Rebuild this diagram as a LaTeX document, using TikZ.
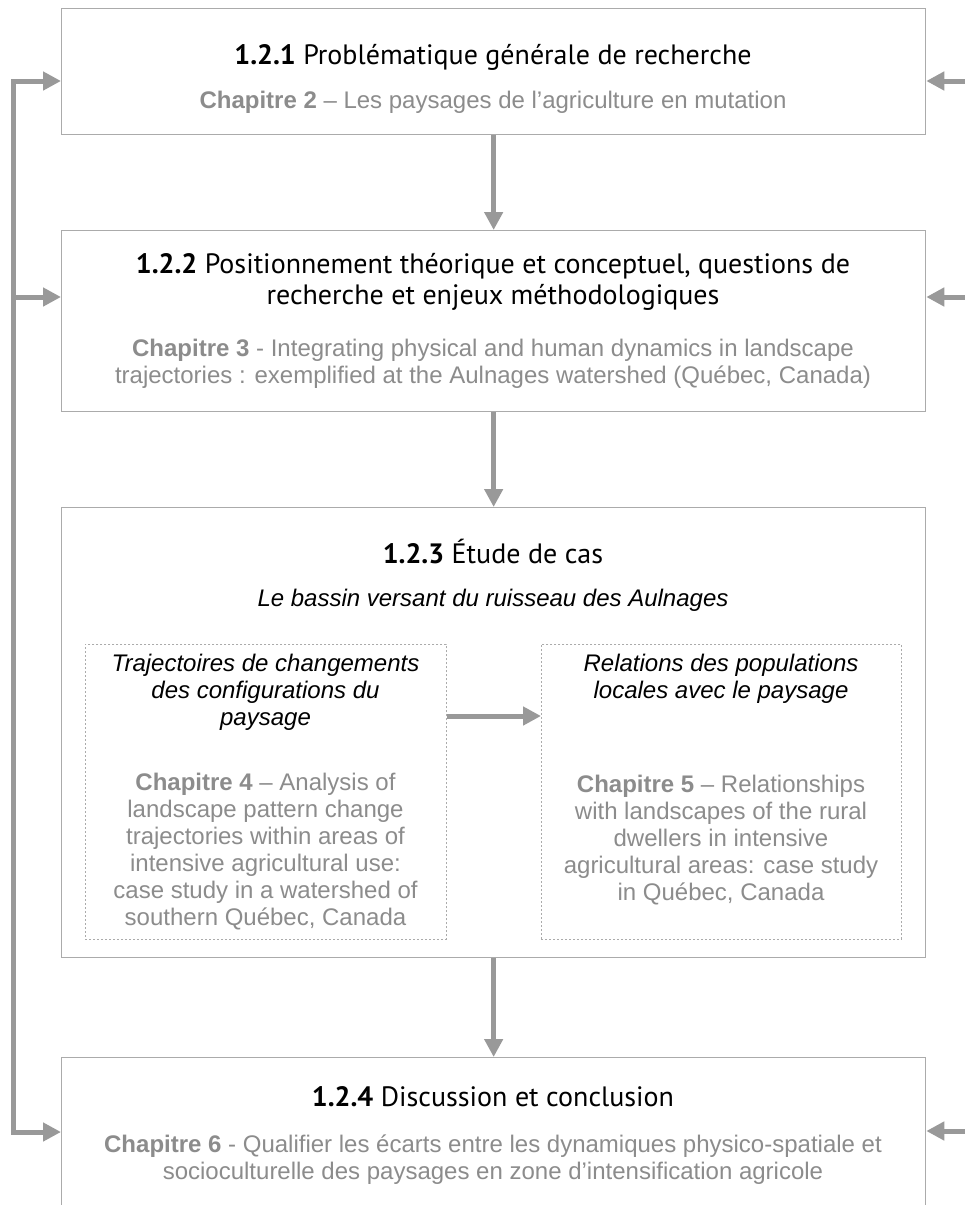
\documentclass[tikz,border=0pt]{standalone}
\usepackage{fontspec}
\setmainfont{Liberation Sans}
\newfontfamily\gillfont{PT Sans}
\usetikzlibrary{arrows.meta}
\definecolor{arrowgray}{HTML}{999999}
\definecolor{boxgray}{HTML}{ABABAB}
\definecolor{chapgray}{HTML}{8C8C8C}
\begin{document}
\begin{tikzpicture}[x=1pt,y=-1pt,
  mainbox/.style={draw=boxgray,line width=1.3pt,anchor=north west,inner sep=0pt,minimum width=864pt},
  subbox/.style={draw=boxgray,line width=0.8pt,dash pattern=on 2pt off 2pt,anchor=north west,inner sep=0pt,minimum height=295pt},
  flow/.style={draw=arrowgray,line width=5pt,line join=miter,-{Triangle[length=18pt,width=18pt]}},
  titletxt/.style={font=\gillfont\fontsize{28}{31}\selectfont,align=center,inner sep=0pt},
  chaptxt/.style={font=\fontsize{24}{27}\selectfont,text=chapgray,align=center,inner sep=0pt},
  ittxt/.style={font=\itshape\fontsize{24}{27}\selectfont,align=center,inner sep=0pt},
]
\useasboundingbox (0,0) rectangle (965,1205);
\fill[white] (0,0) rectangle (965,1205);

% boxes
\node[mainbox,minimum height=126pt] (box1) at (61,8) {};
\node[mainbox,minimum height=181pt] (box2) at (61,230) {};
\node[mainbox,minimum height=450pt] (box3) at (61,507) {};
\node[mainbox,minimum height=200pt] (box4) at (61,1057) {};
\node[subbox,minimum width=361pt] (subL) at (85,644) {};
\node[subbox,minimum width=360pt] (subR) at (541,644) {};

% texts
\node[titletxt] (t1) at (493,57) {\textbf{1.2.1} Problématique générale de recherche};
\node[chaptxt] (c1) at (493,102) {\textbf{Chapitre 2} – Les paysages de l’agriculture en mutation};

\node[titletxt] (t2) at (493,282) {\textbf{1.2.2} Positionnement théorique et conceptuel, questions de\\recherche et enjeux méthodologiques};
\node[chaptxt] (c2) at (493,364) {\textbf{Chapitre 3} - Integrating physical and human dynamics in landscape\\trajectories : exemplified at the Aulnages watershed (Québec, Canada)};

\node[titletxt] (t3) at (493,552) {\textbf{1.2.3} Étude de cas};
\node[ittxt] (s3) at (493,600) {Le bassin versant du ruisseau des Aulnages};

\node[ittxt] (sL) at (265.5,692) {Trajectoires de changements\\des configurations du\\paysage};
\node[chaptxt] (cL) at (265.5,852) {\textbf{Chapitre 4} – Analysis of\\landscape pattern change\\trajectories within areas of\\intensive agricultural use:\\case study in a watershed of\\southern Québec, Canada};

\node[ittxt] (sR) at (721,678.5) {Relations des populations\\locales avec le paysage};
\node[chaptxt] (cR) at (721,840) {\textbf{Chapitre 5} – Relationships\\with landscapes of the rural\\dwellers in intensive\\agricultural areas: case study\\in Québec, Canada};

\node[titletxt] (t4) at (493,1097) {\textbf{1.2.4} Discussion et conclusion};
\node[chaptxt] (c4) at (493,1160) {\textbf{Chapitre 6} - Qualifier les écarts entre les dynamiques physico-spatiale et\\socioculturelle des paysages en zone d’intensification agricole};

% vertical flow
\draw[flow] (box1.south) -- (box2.north);
\draw[flow] (box2.south) -- (box3.north);
\draw[flow] (box3.south) -- (box4.north);

% horizontal arrow between sub boxes
\coordinate (hy) at (0,716);
\draw[flow] (subL.east |- hy) -- (subR.west |- hy);

% left feedback connector
\coordinate (ltop) at (13,81);
\coordinate (lmid) at (13,297);
\coordinate (lbot) at (13,1132);
\draw[flow] (lmid) -- (ltop) -- (box1.west |- ltop);
\draw[flow] (lmid) -- (box2.west |- lmid);
\draw[flow] (lmid) -- (lbot) -- (box4.west |- lbot);

% right arrows
\coordinate (r1) at (965,81);
\coordinate (r2) at (965,297);
\coordinate (r4) at (965,1131);
\draw[flow] (r1) -- (box1.east |- r1);
\draw[flow] (r2) -- (box2.east |- r2);
\draw[flow] (r4) -- (box4.east |- r4);
\end{tikzpicture}
\end{document}
